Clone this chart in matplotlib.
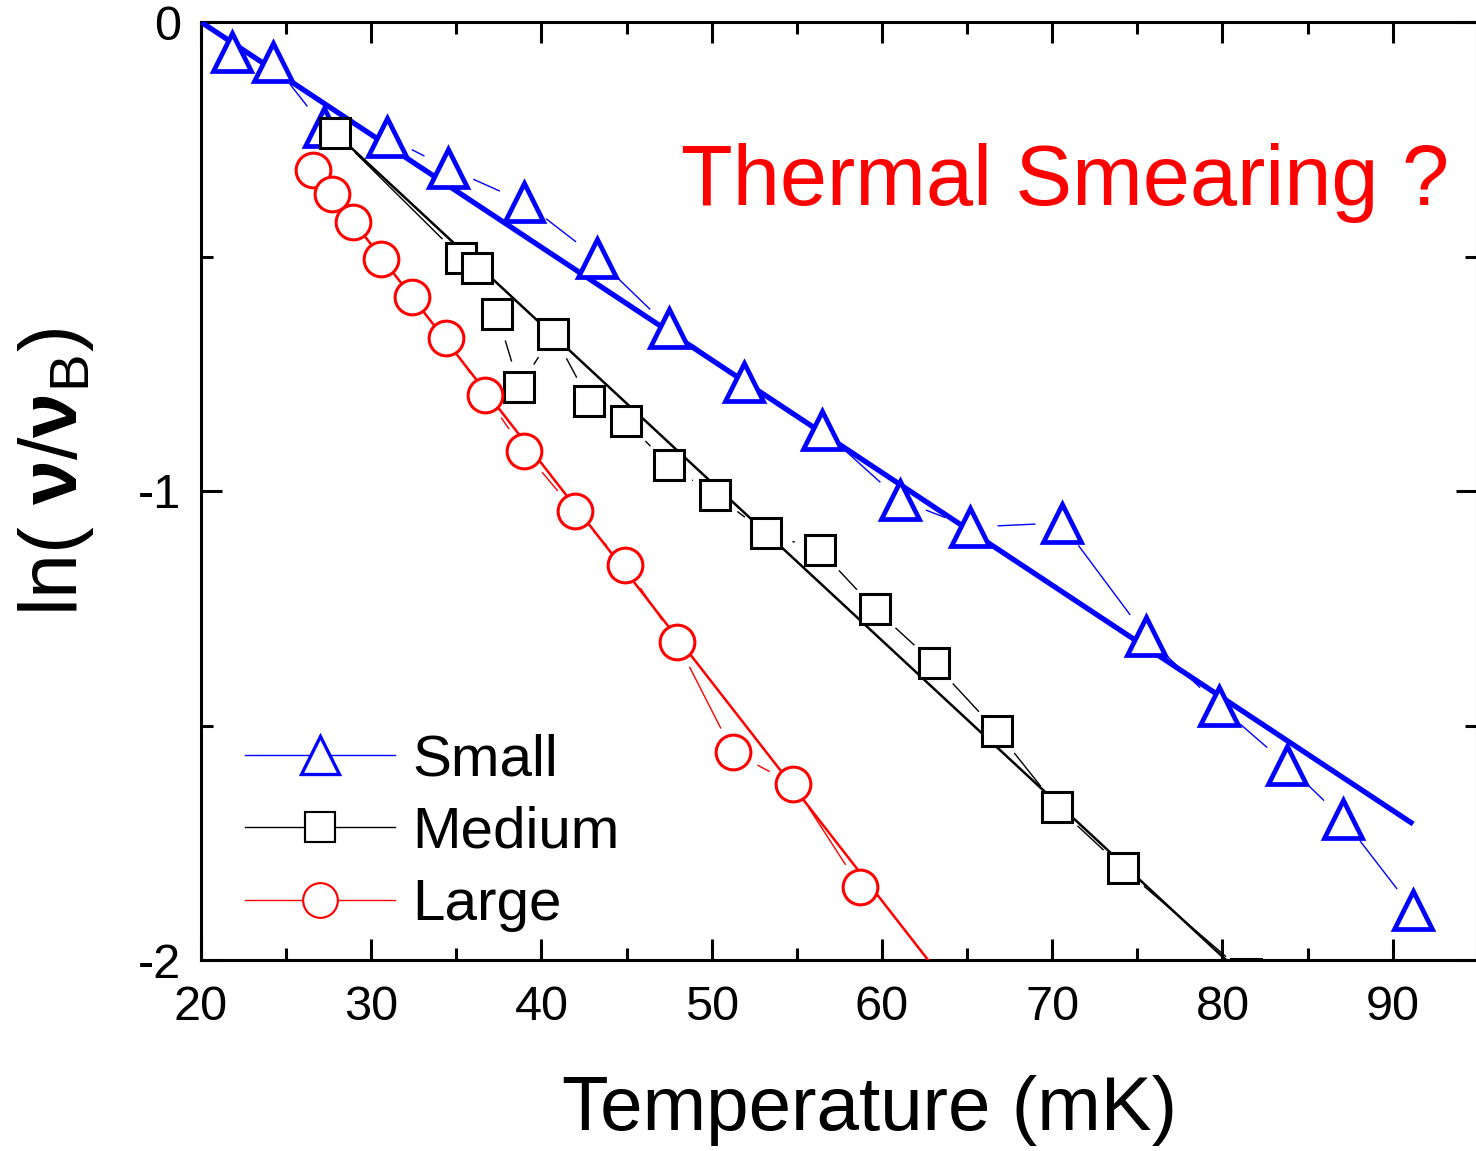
import numpy as np
import matplotlib
matplotlib.use('Agg')
import matplotlib.pyplot as plt
from matplotlib.lines import Line2D

plt.rcParams['font.family'] = ['Liberation Sans', 'DejaVu Sans']
plt.rcParams['mathtext.fontset'] = 'custom'
plt.rcParams['mathtext.rm'] = 'Liberation Sans'
plt.rcParams['mathtext.it'] = 'Liberation Sans:italic'
plt.rcParams['mathtext.bf'] = 'Liberation Sans:bold'

'''Data read off the figure'''
# Small
small_T = [21.8, 24.2, 27.2, 30.9, 34.5, 39.0, 43.25, 47.5, 51.9, 56.5,
           61.05, 65.15, 70.55, 75.5, 79.8, 83.8, 87.1, 91.2]
small_y = [-0.064, -0.085, -0.224, -0.245, -0.311, -0.384, -0.503, -0.652, -0.768, -0.870,
           -1.019, -1.077, -1.068, -1.309, -1.458, -1.584, -1.70, -1.893]
# Medium
medium_T = [27.9, 35.3, 36.2, 37.4, 38.7, 40.7, 42.8, 44.95, 47.5, 50.2,
            53.2, 56.35, 59.6, 63.05, 66.75, 70.3, 74.15, 81.4]
medium_y = [-0.237, -0.503, -0.525, -0.623, -0.778, -0.665, -0.808, -0.851, -0.945, -1.008,
            -1.090, -1.126, -1.252, -1.367, -1.512, -1.674, -1.804, -2.03]
# Large
large_T = [26.6, 27.7, 28.9, 30.6, 32.4, 34.4, 36.7, 39.0, 41.95, 44.9,
           47.95, 51.25, 54.8, 58.7]
large_y = [-0.316, -0.367, -0.426, -0.505, -0.586, -0.674, -0.795, -0.915, -1.043, -1.158,
           -1.322, -1.557, -1.625, -1.844]

# linear fits (end points)
fit_small_T = [20.0, 91.2]
fit_small_y = [0.0, -1.71]
fit_medium_T = [27.9, 81.4]
fit_medium_y = [-0.237, -2.04]
fit_large_T = [26.6, 63.5]
fit_large_y = [-0.316, -2.037]

labels = ['Small', 'Medium', 'Large']
colors = ['#0000ff', 'black', '#ff0000']
markers = ['^', 's', 'o']
msizes = [27, 22, 25]
mews = [3.4, 2.2, 2.2]
fit_lws = [3.8, 1.8, 1.8]

series = [(small_T, small_y, fit_small_T, fit_small_y),
          (medium_T, medium_y, fit_medium_T, fit_medium_y),
          (large_T, large_y, fit_large_T, fit_large_y)]

fig = plt.figure(figsize=(14.76, 11.51), dpi=100)
ax = fig.add_axes([201/1476, 1 - 960/1151, 1276/1476, 938/1151])

for (T, y, fT, fy), c, m, ms, mew, flw in zip(series, colors, markers, msizes, mews, fit_lws):
    ax.plot(T, y, color=c, lw=1.0, zorder=1)
    # white halo so the connecting line stops short of each symbol
    ax.plot(T, y, ls='none', marker='o', ms=38, mfc='white', mec='white', zorder=2)
    ax.plot(fT, fy, color=c, lw=flw, zorder=3, solid_capstyle='butt')
    ax.plot(T, y, ls='none', marker=m, ms=ms, mfc='white', mec=c, mew=mew, zorder=4)

ax.set_xlim(20, 94.95)
ax.set_ylim(-2, 0)
ax.set_xticks(np.arange(20, 91, 10))
ax.set_xticks(np.arange(25, 95, 10), minor=True)
ax.set_yticks([0, -1, -2])
ax.set_yticklabels(['0', '-1', '-2'])
ax.set_yticks([-0.5, -1.5], minor=True)
ax.tick_params(which='both', direction='in', top=True, right=True, width=2.2, labelsize=35)
ax.tick_params(which='major', length=15)
ax.tick_params(which='minor', length=8.5)
ax.tick_params(axis='x', pad=18)
ax.tick_params(axis='y', pad=14)
for sp in ax.spines.values():
    sp.set_linewidth(2.2)

ax.set_xlabel('Temperature (mK)', fontsize=55)
ax.xaxis.set_label_coords(0.524, -0.1225)
ax.set_ylabel(r'ln( $\mathbf{\nu}$/$\mathbf{\nu}_{\mathrm{B}}$)', fontsize=58)
ax.yaxis.set_label_coords(-0.082, 0.52)

ax.text(48.2, -0.39, 'Thermal Smearing ?', color='#ff0000', fontsize=61,
        ha='left', va='baseline')

handles = [Line2D([], [], color=c, lw=1.0, marker=m, ms=ms, mfc='white', mec=c,
                  mew=mew * 0.7)
           for c, m, ms, mew in zip(colors, markers, msizes, mews)]
ax.legend(handles, labels, loc='upper left', bbox_to_anchor=(0.0345, 0.242),
          frameon=False, fontsize=42, handlelength=2.57, handletextpad=0.3,
          labelspacing=0.32, borderpad=0, borderaxespad=0)

fig.savefig('out.png', dpi=100)
